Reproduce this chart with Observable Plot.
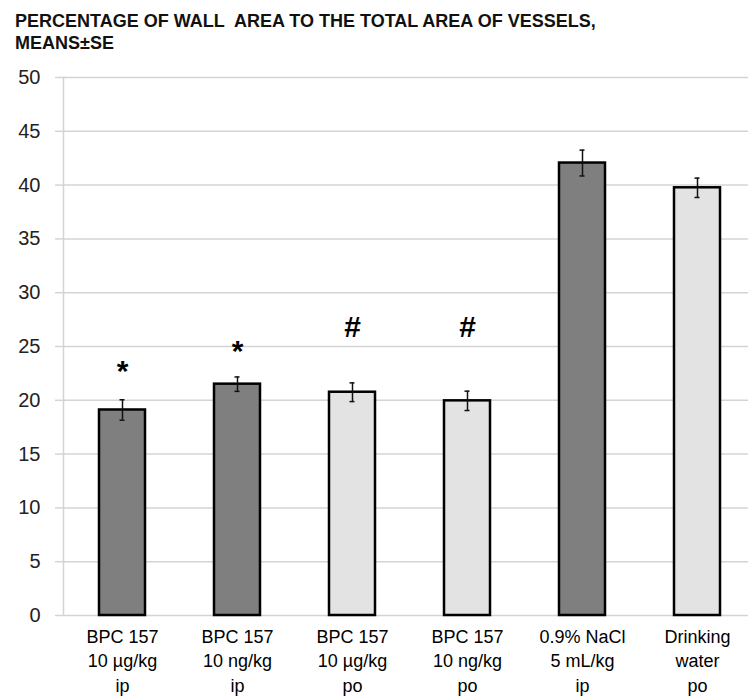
<!DOCTYPE html>
<html>
<head>
<meta charset="utf-8">
<script src="https://cdn.jsdelivr.net/npm/d3@7"></script>
<script src="https://cdn.jsdelivr.net/npm/@observablehq/plot@0.6"></script>
<style>
  html, body { margin: 0; padding: 0; background: #fff; }
  #title { height: 60px; box-sizing: border-box; padding: 10px 0 0 15px; font-family: "Liberation Sans", Arial, sans-serif; font-weight: bold; font-size: 18px; line-height: 22px; color: #111; white-space: nowrap; }
  #chart svg { display: block; }
</style>
</head>
<body>
<div id="title">PERCENTAGE OF WALL&nbsp; AREA TO THE TOTAL AREA OF VESSELS,<br>MEANS±SE</div>
<div id="chart"></div>
<script>
const categories = [
  "BPC 157\n10 µg/kg\nip",
  "BPC 157\n10 ng/kg\nip",
  "BPC 157\n10 µg/kg\npo",
  "BPC 157\n10 ng/kg\npo",
  "0.9% NaCl\n5 mL/kg\nip",
  "Drinking\nwater\npo"
];
const means = [19.1, 21.5, 20.75, 19.95, 42.05, 39.75];
const se = [0.95, 0.67, 0.87, 0.9, 1.2, 0.9];
const route = ["ip", "ip", "po", "po", "ip", "po"];
const symbols = ["*", "*", "#", "#", "", ""];
const symbolY = [22.65, 24.55, 26.75, 26.75, null, null];
const yTicks = [0, 5, 10, 15, 20, 25, 30, 35, 40, 45, 50];

const data = categories.map((c, i) => ({
  cat: c, mean: means[i], lo: means[i] - se[i], hi: means[i] + se[i],
  route: route[i], sym: symbols[i], symY: symbolY[i]
}));

const chart = Plot.plot({
  width: 748,
  height: 636,
  marginTop: 17,
  marginBottom: 81,
  marginLeft: 63,
  marginRight: 0,
  style: { fontFamily: "'Liberation Sans', Arial, sans-serif", background: "#fff" },
  x: { domain: categories, range: [62.5, 756], paddingInner: 0.6, paddingOuter: 0.3, label: null },
  y: { domain: [0, 50], ticks: yTicks, label: null },
  color: { domain: ["ip", "po"], range: ["#7f7f7f", "#e3e3e3"] },
  marks: [
    Plot.gridY(yTicks, { stroke: "#d4d4d4", strokeOpacity: 1, strokeWidth: 1.5 }),
    Plot.axisY(yTicks, { tickSize: 8, stroke: "#d4d4d4", strokeOpacity: 1, strokeWidth: 1.5, tickPadding: 15, fontSize: 20, fill: "#222", label: null }),
    Plot.frame({ anchor: "left", stroke: "#d4d4d4", strokeWidth: 1.5 }),
    Plot.barY(data, { x: "cat", y: "mean", fill: "route", stroke: "#000", strokeWidth: 2.5 }),
    Plot.ruleX(data, { x: "cat", y1: "lo", y2: "hi", stroke: "#111", strokeWidth: 1.5 }),
    Plot.tickY(data, { x: "cat", y: "lo", stroke: "#111", strokeWidth: 1.5, insetLeft: 20.5, insetRight: 20.5 }),
    Plot.tickY(data, { x: "cat", y: "hi", stroke: "#111", strokeWidth: 1.5, insetLeft: 20.5, insetRight: 20.5 }),
    Plot.text(data.filter(d => d.sym), { x: "cat", y: "symY", text: "sym", fontSize: 30, fontWeight: "bold", fill: "#000", lineAnchor: "middle" }),
    Plot.axisX({ tickSize: 0, tickPadding: 10, fontSize: 18, fill: "#000", lineHeight: 1.36, lineAnchor: "top", label: null })
  ]
});
document.getElementById("chart").appendChild(chart);
</script>
</body>
</html>
